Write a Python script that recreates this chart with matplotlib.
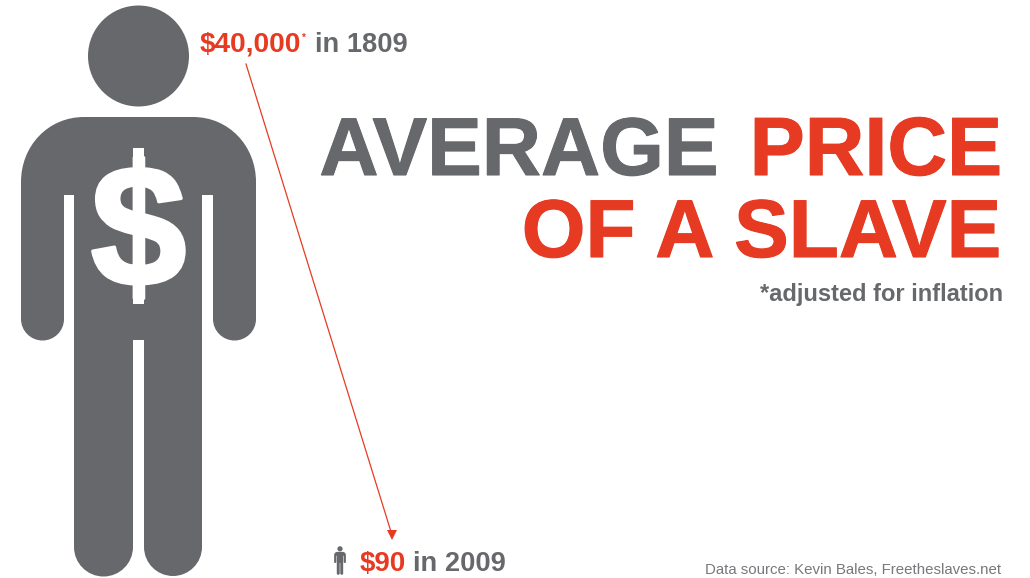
import matplotlib
matplotlib.use("Agg")
import matplotlib.pyplot as plt
import matplotlib.patheffects as pe
from matplotlib.patches import Circle, PathPatch
from matplotlib.path import Path
from matplotlib.transforms import Affine2D

prices = ["$40,000", "$90"]
years = ["in 1809", "in 2009"]
title_grey = "AVERAGE"
title_red = ["PRICE", "OF A SLAVE"]
note = "*adjusted for inflation"
source = "Data source: Kevin Bales, Freetheslaves.net"

grey = "#67686b"
red = "#e63b22"
k = 0.5523


def semi(x_right, x_left, y):
    # half circle going down from right side to left side
    r = (x_right - x_left) / 2
    mid = (x_right + x_left) / 2
    return [(x_right, y + k * r), (mid + k * r, y + r), (mid, y + r),
            (mid - k * r, y + r), (x_left, y + k * r), (x_left, y)]


verts = [(21, 182), (21, 146), (48, 117), (84, 117), (193, 117)]
codes = [Path.MOVETO, Path.CURVE4, Path.CURVE4, Path.CURVE4, Path.LINETO]
verts += [(229, 117), (256, 146), (256, 182)]
codes += [Path.CURVE4] * 3


def add_line(*pts):
    for p in pts:
        verts.append(p)
        codes.append(Path.LINETO)


def add_semi(x_right, x_left, y):
    add_line((x_right, y))
    verts.extend(semi(x_right, x_left, y))
    codes.extend([Path.CURVE4] * 6)


add_semi(256, 213, 319)
add_line((213, 195), (202, 195))
add_semi(202, 144, 547)
add_line((144, 340), (133, 340))
add_semi(133, 74, 547)
add_line((74, 195), (64, 195))
add_semi(64, 21, 319)
verts.append((21, 182))
codes.append(Path.CLOSEPOLY)
body = Path(verts, codes)


def heavy(width, color):
    return [pe.withStroke(linewidth=width, foreground=color)]


fig = plt.figure(figsize=(10.3, 5.78), dpi=100)
ax = fig.add_axes([0, 0, 1, 1])
ax.set_xlim(0, 1030)
ax.set_ylim(578, 0)
ax.axis("off")

# big figure
ax.add_patch(Circle((138.5, 56), 50.5, color=grey, lw=0))
ax.add_patch(PathPatch(body, fc=grey, lw=0))
ax.text(138.5, 241, "$", color="white", fontsize=124, fontweight="bold",
        family="Liberation Sans", ha="center", va="center",
        path_effects=heavy(2.5, "white"))
# the stroke of the dollar sign sticks out further than the font's
ax.fill_between([133, 144], 148, 304, color="white", lw=0)

# small figure next to the 2009 price
small = Affine2D().translate(-138.5, 0).scale(0.05).translate(340, 546)
ax.add_patch(Circle(small.transform_point((138.5, 56)), 2.6, color=grey, lw=0))
ax.add_patch(PathPatch(body.transformed(small), fc=grey, lw=0))

font = dict(family="Liberation Sans", fontweight="bold")
ax.text(200, 52, prices[0], color=red, fontsize=20.2, **font)
ax.text(302, 41, "*", color=red, fontsize=7, **font)
ax.text(315, 52, years[0], color=grey, fontsize=19.6, **font)
ax.text(360, 571, prices[1], color=red, fontsize=20, **font)
ax.text(413, 571, years[1], color=grey, fontsize=19.6, **font)

# arrow between the two prices
ax.plot([246, 392], [64, 535], color=red, lw=0.9)
ax.plot([392], [535], marker="v", ms=7.5, color=red, mew=0)

# headline, right aligned on the red words
title_effect = heavy(0.8, red)
ax.text(1002, 175, title_red[0], color=red, fontsize=59.5, ha="right",
        path_effects=title_effect, **font)
ax.text(719, 175, title_grey, color=grey, fontsize=59, ha="right",
        path_effects=heavy(0.8, grey), **font)
ax.text(1002, 257, title_red[1], color=red, fontsize=59, ha="right",
        path_effects=title_effect, **font)

ax.text(1003, 301, note, color=grey, fontsize=17, ha="right", **font)
ax.text(1001, 574, source, color="#77787b", fontsize=10.8, ha="right",
        family="Liberation Sans")

fig.savefig("out.png", dpi=100)
